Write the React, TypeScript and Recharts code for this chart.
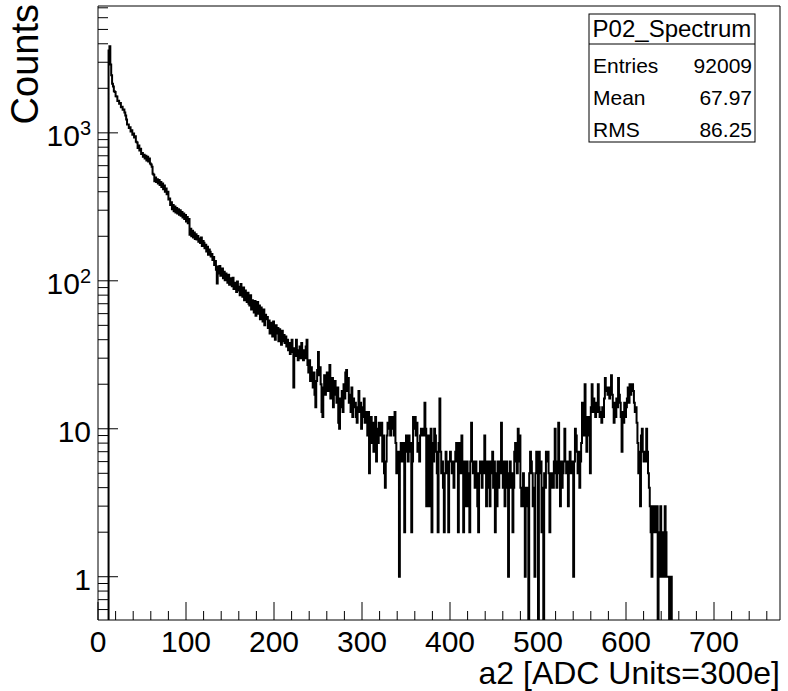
import { LineChart, Line, XAxis, YAxis, ReferenceArea } from 'recharts';

// histogram: one count per 1-unit ADC bin, first bin starts at 12
const FIRST_BIN = 12;

// bins 12..111
const countsSteep = [
  3600, 3850, 2900, 2450, 2150, 2060, 1910, 1890, 1770, 1760, 1640, 1650, 1570, 1590, 1490, 1500, 1430, 1440, 1370, 1310,
  1230, 1140, 1140, 1080, 1090, 1020, 1040, 970, 990, 930, 950, 870, 860, 790, 820, 760, 780, 720, 730, 690,
  710, 670, 700, 650, 690, 640, 670, 620, 610, 590, 530, 520, 470, 500, 465, 485, 455, 480, 445, 465,
  430, 455, 415, 440, 400, 420, 385, 400, 355, 360, 325, 340, 305, 325, 295, 318, 290, 310, 285, 305,
  280, 300, 275, 292, 268, 285, 262, 278, 252, 270, 245, 262, 205, 225, 200, 218, 196, 212, 192, 206,
];

// bins 112..311
const countsTail = [
  190, 201, 184, 193, 180, 196, 172, 186, 181, 166, 175, 158, 170, 150, 163, 157, 146, 152, 138, 145,
  128, 136, 119, 96, 125, 112, 126, 108, 118, 121, 104, 115, 101, 112, 108, 97, 110, 94, 104, 99,
  92, 105, 88, 97, 94, 84, 99, 86, 91, 80, 95, 83, 78, 90, 74, 86, 79, 72, 83, 70,
  68, 80, 64, 74, 70, 61, 73, 58, 67, 72, 60, 68, 55, 66, 61, 53, 64, 50, 59, 55,
  57, 48, 54, 44, 52, 49, 42, 53, 46, 40, 50, 44, 48, 39, 47, 42, 37, 46, 39, 43,
  38, 42, 36, 40, 34, 38, 32, 36, 40, 33, 19, 35, 31, 40, 34, 29, 33, 36, 30, 38,
  32, 29, 34, 30, 36, 40, 27, 24, 29, 21, 26, 22, 19, 24, 17, 14, 21, 25, 33, 23,
  26, 20, 13, 12, 19, 23, 17, 21, 24, 18, 20, 27, 16, 19, 22, 14, 18, 21, 17, 15,
  19, 11, 10, 16, 14, 18, 13, 20, 16, 24, 25, 18, 22, 15, 17, 13, 19, 12, 16, 14,
  15, 12, 11, 14, 18, 13, 15, 10, 14, 12, 16, 11, 13, 11, 9, 13, 5, 10, 12, 8,
];

// bins 312..531
const countsFlat = [
  11, 7, 9, 12, 6, 10, 8, 11, 9, 10, 11, 6, 9, 5, 4, 6, 9, 11, 10, 12,
  9, 10, 12, 11, 9, 13, 8, 5, 7, 6, 1, 7, 8, 6, 7, 8, 2, 7, 9, 8,
  6, 9, 7, 8, 2, 6, 12, 10, 12, 9, 11, 7, 8, 6, 9, 10, 9, 10, 9, 15,
  10, 3, 6, 9, 3, 7, 10, 2, 8, 6, 10, 9, 7, 5, 2, 8, 16, 7, 5, 6,
  4, 2, 5, 7, 6, 5, 2, 6, 7, 6, 5, 6, 4, 6, 7, 8, 6, 2, 8, 7,
  5, 9, 6, 2, 5, 6, 3, 6, 3, 5, 2, 6, 11, 6, 5, 6, 4, 6, 5, 3,
  2, 5, 6, 5, 4, 6, 5, 9, 6, 3, 5, 6, 4, 3, 6, 5, 7, 4, 6, 2,
  5, 3, 6, 4, 5, 6, 11, 5, 4, 6, 3, 5, 6, 4, 1, 5, 6, 4, 5, 2,
  4, 7, 8, 6, 5, 10, 6, 9, 4, 3, 4, 5, 3, 1, 4, 4, 3, 0, 5, 7,
  6, 5, 3, 4, 1, 5, 7, 6, 0, 7, 5, 6, 2, 4, 0, 5, 4, 7, 6, 7,
  5, 2, 5, 4, 5, 4, 6, 10, 5, 4, 6, 11, 5, 3, 6, 4, 5, 6, 10, 6,
];

// bins 532..651
const countsBump = [
  5, 6, 3, 5, 7, 6, 5, 6, 1, 6, 10, 9, 7, 5, 7, 4, 6, 8, 15, 10,
  9, 20, 12, 7, 11, 12, 9, 5, 14, 20, 13, 16, 14, 12, 15, 13, 20, 14, 12, 13,
  11, 14, 12, 16, 22, 18, 19, 17, 19, 16, 18, 23, 17, 14, 11, 15, 12, 16, 14, 22,
  17, 15, 12, 7, 13, 11, 15, 12, 14, 16, 19, 15, 20, 17, 19, 20, 18, 15, 13, 14,
  11, 8, 5, 7, 3, 9, 10, 7, 6, 7, 6, 10, 7, 5, 4, 3, 2, 1, 3, 3,
  2, 3, 2, 3, 0, 1, 2, 3, 1, 2, 2, 1, 3, 2, 1, 1, 1, 0, 0, 1,
];

const xTicks = [
  0, 20, 40, 60, 80, 100, 120, 140, 160, 180, 200, 220, 240, 260, 280, 300, 320, 340, 360, 380,
  400, 420, 440, 460, 480, 500, 520, 540, 560, 580, 600, 620, 640, 660, 680, 700, 720, 740, 760,
];
const xLabels = [0, 100, 200, 300, 400, 500, 600, 700];

const yTicks = [
  0.6, 0.7, 0.8, 0.9, 1, 2, 3, 4, 5, 6, 7, 8, 9, 10, 20, 30, 40, 50, 60, 70, 80, 90,
  100, 200, 300, 400, 500, 600, 700, 800, 900, 1000, 2000, 3000, 4000, 5000, 6000, 7000,
];
// base text and superscript for the labelled decades
const yLabels: Record<number, [string, string]> = {
  1: ['1', ''],
  10: ['10', ''],
  100: ['10', '2'],
  1000: ['10', '3'],
};

const statsTitle = 'P02_Spectrum';
const statsRows = [
  ['Entries', '92009'],
  ['Mean', '67.97'],
  ['RMS', '86.25'],
];

const X_MAX = 775;
const Y_MIN = 0.51;
const Y_MAX = 7200;
const FLOOR = 0.1; // empty bins sit below the log axis and get clipped
const FONT = '"Liberation Sans", Arial, Helvetica, sans-serif';

const counts = [...countsSteep, ...countsTail, ...countsFlat, ...countsBump];
const data = [
  { x: FIRST_BIN, y: FLOOR },
  ...counts.map((c, i) => ({ x: FIRST_BIN + i, y: c > 0 ? c : FLOOR })),
  { x: FIRST_BIN + counts.length, y: FLOOR },
];

const XTick = (props: any) => {
  const { x, y, payload } = props;
  const v = payload.value;
  const major = xLabels.includes(v);
  return (
    <g>
      <line x1={x} x2={x} y1={y} y2={y - (major ? 18 : 9)} stroke="#000" strokeWidth={1} />
      {major && (
        <text x={x} y={y + 32} textAnchor="middle" fontSize={30} fontFamily={FONT} fill="#000">
          {v}
        </text>
      )}
    </g>
  );
};

const YTick = (props: any) => {
  const { x, y, payload } = props;
  const lab = yLabels[payload.value];
  return (
    <g>
      <line x1={x} x2={x + (lab ? 20 : 10)} y1={y} y2={y} stroke="#000" strokeWidth={1} />
      {lab && (
        <text x={x - 7} y={y + 13} textAnchor="end" fontSize={30} fontFamily={FONT} fill="#000">
          {lab[0]}
          {lab[1] && (
            <tspan dy={-11} fontSize={20}>
              {lab[1]}
            </tspan>
          )}
        </text>
      )}
    </g>
  );
};

export default function App() {
  return (
    <div style={{ position: 'absolute', left: 0, top: 0, width: 788, height: 691, background: '#fff', fontFamily: FONT }}>
      <LineChart width={788} height={691} data={data} margin={{ top: 6, right: 8, bottom: 0, left: 0 }}>
        <XAxis
          dataKey="x"
          type="number"
          domain={[0, X_MAX]}
          ticks={xTicks}
          interval={0}
          tick={XTick}
          tickLine={false}
          tickSize={0}
          tickMargin={0}
          axisLine={false}
          height={71}
          allowDataOverflow
        />
        <YAxis
          type="number"
          scale="log"
          domain={[Y_MIN, Y_MAX]}
          ticks={yTicks}
          interval={0}
          tick={YTick}
          tickLine={false}
          tickSize={0}
          tickMargin={0}
          axisLine={false}
          width={98}
          allowDataOverflow
        />
        <ReferenceArea
          x1={0}
          x2={X_MAX}
          y1={Y_MIN}
          y2={Y_MAX}
          fill="none"
          fillOpacity={0}
          stroke="#000"
          strokeWidth={1}
          ifOverflow="visible"
        />
        <Line
          dataKey="y"
          type="stepAfter"
          stroke="#000"
          strokeWidth={2}
          dot={false}
          activeDot={false}
          isAnimationActive={false}
        />
        <text x={38} y={4} transform="rotate(-90 38 4)" textAnchor="end" fontSize={38} fontFamily={FONT} fill="#000">
          Counts
        </text>
        <text x={780} y={684} textAnchor="end" fontSize={32} fontFamily={FONT} fill="#000">
          a2 [ADC Units=300e]
        </text>
        <g fontFamily={FONT} fill="#000">
          <rect x={589} y={14} width={166} height={128} fill="#fff" stroke="#000" strokeWidth={1} />
          <line x1={589} x2={755} y1={44} y2={44} stroke="#000" strokeWidth={1} />
          <text x={672} y={37} textAnchor="middle" fontSize={24}>
            {statsTitle}
          </text>
          {statsRows.map((r, i) => (
            <g key={r[0]}>
              <text x={593} y={73 + i * 32} fontSize={21}>
                {r[0]}
              </text>
              <text x={752} y={73 + i * 32} textAnchor="end" fontSize={21}>
                {r[1]}
              </text>
            </g>
          ))}
        </g>
      </LineChart>
    </div>
  );
}
